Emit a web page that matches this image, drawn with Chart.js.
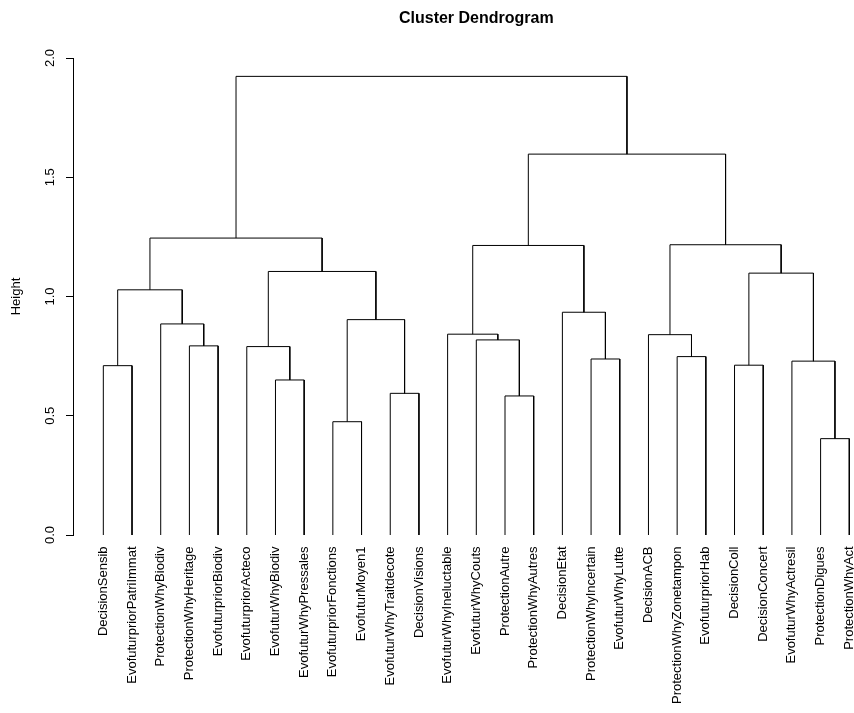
<!DOCTYPE html>
<html>
<head>
<meta charset="utf-8">
<script src="https://cdn.jsdelivr.net/npm/chart.js@4.4.1/dist/chart.umd.min.js"></script>
<style>
    html, body { margin: 0; padding: 0; background: #fff; }
    #wrap { position: relative; width: 854px; height: 713px; }
</style>
</head>
<body>
<div id="wrap"><canvas id="canvas"></canvas></div>
<script>
const leafLabels = [
    'DecisionSensib', 'EvofuturpriorPatriImmat', 'ProtectionWhyBiodiv', 'ProtectionWhyHeritage',
    'EvofuturpriorBiodiv', 'EvofuturpriorActeco', 'EvofuturWhyBiodiv', 'EvofuturWhyPressales',
    'EvofuturpriorFonctions', 'EvofuturMoyen1', 'EvofuturWhyTraitdecote', 'DecisionVisions',
    'EvofuturWhyIneluctable', 'EvofuturWhyCouts', 'ProtectionAutre', 'ProtectionWhyAutres',
    'DecisionEtat', 'ProtectionWhyIncertain', 'EvofuturWhyLutte', 'DecisionACB',
    'ProtectionWhyZonetampon', 'EvofuturpriorHab', 'DecisionColl', 'DecisionConcert',
    'EvofuturWhyActresil', 'ProtectionDigues', 'ProtectionWhyAct',
];
// merge rows as in R hclust: negative = leaf number, positive = earlier row
const mergeLeft = [-26, -9, -15, -11, -7, -1, -23, -25, -18, -21, -6, -4, -14, -20, -13, -3, 2, -17, 6, 7, 11, 15, 14, 19, 22, 24];
const mergeRight = [-27, -10, -16, -12, -8, -2, -24, 1, -19, -22, 5, -5, 3, 10, 13, 12, 4, 9, 16, 8, 17, 18, 20, 21, 23, 25];
const mergeHeight = [0.404, 0.475, 0.583, 0.594, 0.65, 0.71, 0.712, 0.729, 0.738, 0.748, 0.79, 0.793, 0.818,
    0.84, 0.842, 0.885, 0.903, 0.934, 1.028, 1.098, 1.105, 1.214, 1.217, 1.245, 1.597, 1.923];
const yTicks = [0, 0.5, 1, 1.5, 2];

const FONT = "'Liberation Sans', Arial, Helvetica, sans-serif";

const nodeX = [];
const nodeH = [];
function posX(k) {
    return k < 0 ? -k : nodeX[k - 1];
}
function posH(k) {
    return k < 0 ? 0 : nodeH[k - 1];
}

const datasets = mergeHeight.map((h, i) => {
    const a = mergeLeft[i];
    const b = mergeRight[i];
    const set = {
        data: [
            { x: posX(a), y: posH(a) },
            { x: posX(a), y: h },
            { x: posX(b), y: h },
            { x: posX(b), y: posH(b) },
        ],
        showLine: true,
        borderColor: '#000',
        borderWidth: 1,
        pointRadius: 0,
        pointHoverRadius: 0,
        tension: 0,
        clip: false,
    };
    nodeX.push((posX(a) + posX(b)) / 2);
    nodeH.push(h);
    return set;
});

// main title centred over the plot region, like R does
const titlePlugin = {
    id: 'rTitle',
    afterDraw(chart) {
        const ctx = chart.ctx;
        const x = chart.scales.x.getPixelForValue((1 + leafLabels.length) / 2);
        ctx.save();
        ctx.font = 'bold 16px ' + FONT;
        ctx.fillStyle = '#000';
        ctx.textAlign = 'center';
        ctx.textBaseline = 'middle';
        ctx.fillText('Cluster Dendrogram', x, 19);
        ctx.restore();
    },
};

new Chart('canvas', {
    type: 'scatter',
    data: { datasets: datasets },
    options: {
        responsive: true,
        maintainAspectRatio: false,
        animation: false,
        layout: { padding: { top: 58, left: 0, right: 0, bottom: 0 } },
        plugins: {
            legend: { display: false },
            tooltip: { enabled: false },
            title: { display: false },
        },
        scales: {
            x: {
                type: 'linear',
                min: -0.057,
                max: 27.164,
                afterBuildTicks: (s) => {
                    s.ticks = leafLabels.map((l, i) => ({ value: i + 1 }));
                },
                afterFit: (s) => {
                    s.paddingLeft = 0;
                    s.paddingRight = 0;
                    s.height = 178;
                },
                grid: { display: false, drawTicks: false },
                border: { display: false },
                ticks: {
                    autoSkip: false,
                    minRotation: 90,
                    maxRotation: 90,
                    padding: 11.5,
                    color: '#000',
                    font: { family: FONT, size: 13 },
                    callback: (v, i) => leafLabels[i],
                },
            },
            y: {
                type: 'linear',
                min: 0,
                max: 2,
                afterBuildTicks: (s) => {
                    s.ticks = yTicks.map((v) => ({ value: v }));
                },
                afterFit: (s) => {
                    s.width = 73;
                    s.paddingTop = 0;
                    s.paddingBottom = 0;
                },
                grid: {
                    drawOnChartArea: false,
                    tickLength: 7,
                    color: '#000',
                    tickColor: '#000',
                },
                border: { display: true, color: '#000', width: 1 },
                ticks: {
                    minRotation: 90,
                    maxRotation: 90,
                    crossAlign: 'center',
                    padding: 7,
                    color: '#000',
                    font: { family: FONT, size: 13 },
                    callback: (v) => v.toFixed(1),
                },
                title: {
                    display: true,
                    text: 'Height',
                    color: '#000',
                    font: { family: FONT, size: 13 },
                    padding: { top: 8.5, bottom: 0 },
                },
            },
        },
    },
    plugins: [titlePlugin],
});
</script>
</body>
</html>
